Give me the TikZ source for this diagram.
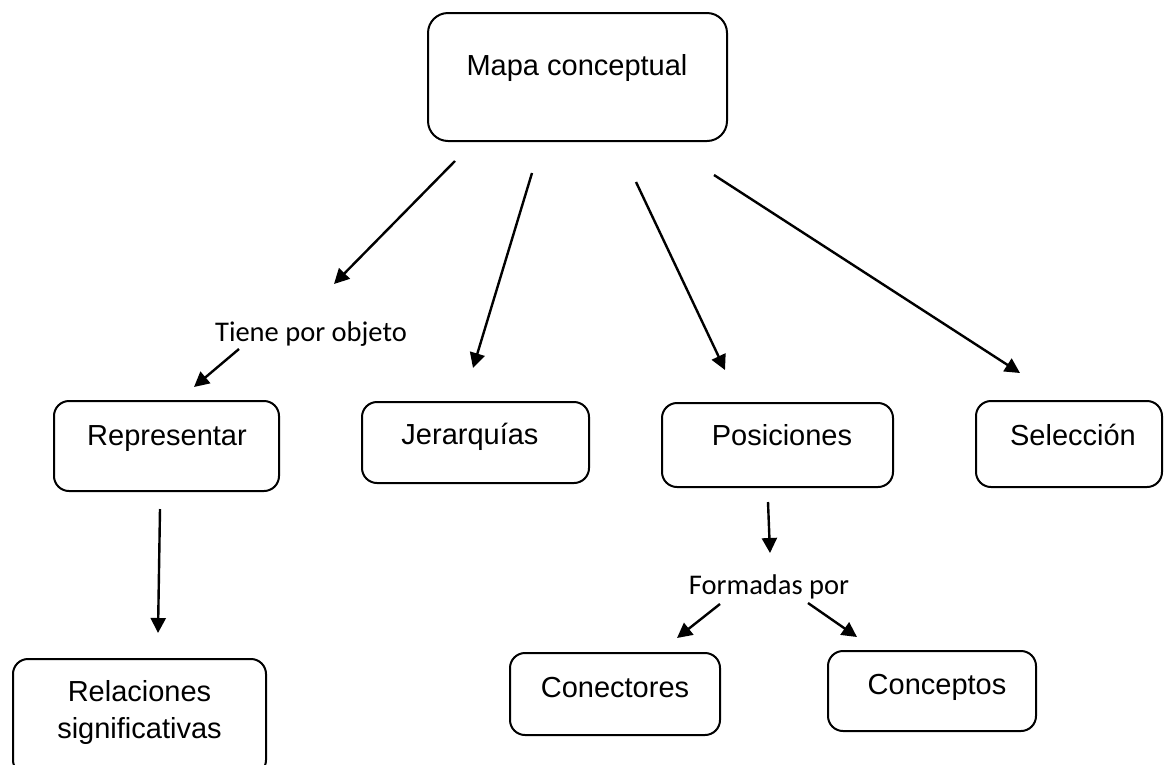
\documentclass[tikz,border=0pt]{standalone}
\usepackage{fontspec}
\setmainfont{Liberation Sans}
\newfontfamily\calfont{Carlito}
\usetikzlibrary{arrows.meta}
\begin{document}
\begin{tikzpicture}[x=1pt,y=-1pt,
  box/.style={draw, line width=2pt, rounded corners=15pt, inner sep=0pt},
  lbl/.style={font=\fontsize{29}{36.7}\selectfont, anchor=base, align=center, inner sep=0pt},
  conn/.style={font=\calfont\fontsize{28.5}{34}\selectfont, anchor=base, inner sep=0pt},
  arr/.style={line width=2.4pt, -{Triangle[length=15pt,width=15pt]}}]
\useasboundingbox (0,0) rectangle (1164,764);
\clip (0,0) rectangle (1164,764);

% boxes
\node[box, rounded corners=20pt, minimum width=299pt, minimum height=128pt] (mapa) at (577.5,77) {};
\node[box, minimum width=225pt, minimum height=90pt] (repr) at (166.5,446) {};
\node[box, minimum width=227pt, minimum height=81pt] (jer) at (475.5,442.5) {};
\node[box, minimum width=231pt, minimum height=84pt] (pos) at (777.5,445) {};
\node[box, minimum width=186pt, minimum height=86pt] (sel) at (1069,444) {};
\node[box, minimum width=253pt, minimum height=116pt] (rel) at (139.5,717) {};
\node[box, minimum width=210pt, minimum height=82pt] (con) at (615,694) {};
\node[box, minimum width=208pt, minimum height=80pt] (cep) at (932,691) {};

% texts
\node[lbl] (mapaT) at (577,75) {Mapa conceptual};
\node[lbl] (reprT) at (167,445) {Representar};
\node[lbl] (jerT) at (470,444) {Jerarquías};
\node[lbl] (posT) at (782,445) {Posiciones};
\node[lbl] (selT) at (1073,445) {Selección};
\node[lbl, anchor=center] (relT) at (139.5,712.5) {Relaciones\\significativas};
\node[lbl] (conT) at (615,697) {Conectores};
\node[lbl] (cepT) at (937,694) {Conceptos};

% connector labels
\node[conn] (tiene) at (311,341) {Tiene por objeto};
\node[conn] (form) at (769,594) {Formadas por};

% arrow end points
\coordinate (a1s) at (455,161);  \coordinate (a1e) at (334,284);
\coordinate (a2s) at (532,173);  \coordinate (a2e) at (473,368);
\coordinate (a3s) at (636,182);  \coordinate (a3e) at (725,370);
\coordinate (a4s) at (714,175);  \coordinate (a4e) at (1020,373);
\coordinate (a5s) at (239,349);  \coordinate (a5e) at (194,387);
\coordinate (a6s) at (160,509);  \coordinate (a6e) at (158,633);
\coordinate (a7s) at (768,502);  \coordinate (a7e) at (770,553);
\coordinate (a8s) at (720,604);  \coordinate (a8e) at (677,638);
\coordinate (a9s) at (808,603);  \coordinate (a9e) at (857,637);

\draw[arr] (a1s) -- (a1e);
\draw[arr] (a2s) -- (a2e);
\draw[arr] (a3s) -- (a3e);
\draw[arr] (a4s) -- (a4e);
\draw[arr] (a5s) -- (a5e);
\draw[arr] (a6s) -- (a6e);
\draw[arr] (a7s) -- (a7e);
\draw[arr] (a8s) -- (a8e);
\draw[arr] (a9s) -- (a9e);
\end{tikzpicture}
\end{document}
